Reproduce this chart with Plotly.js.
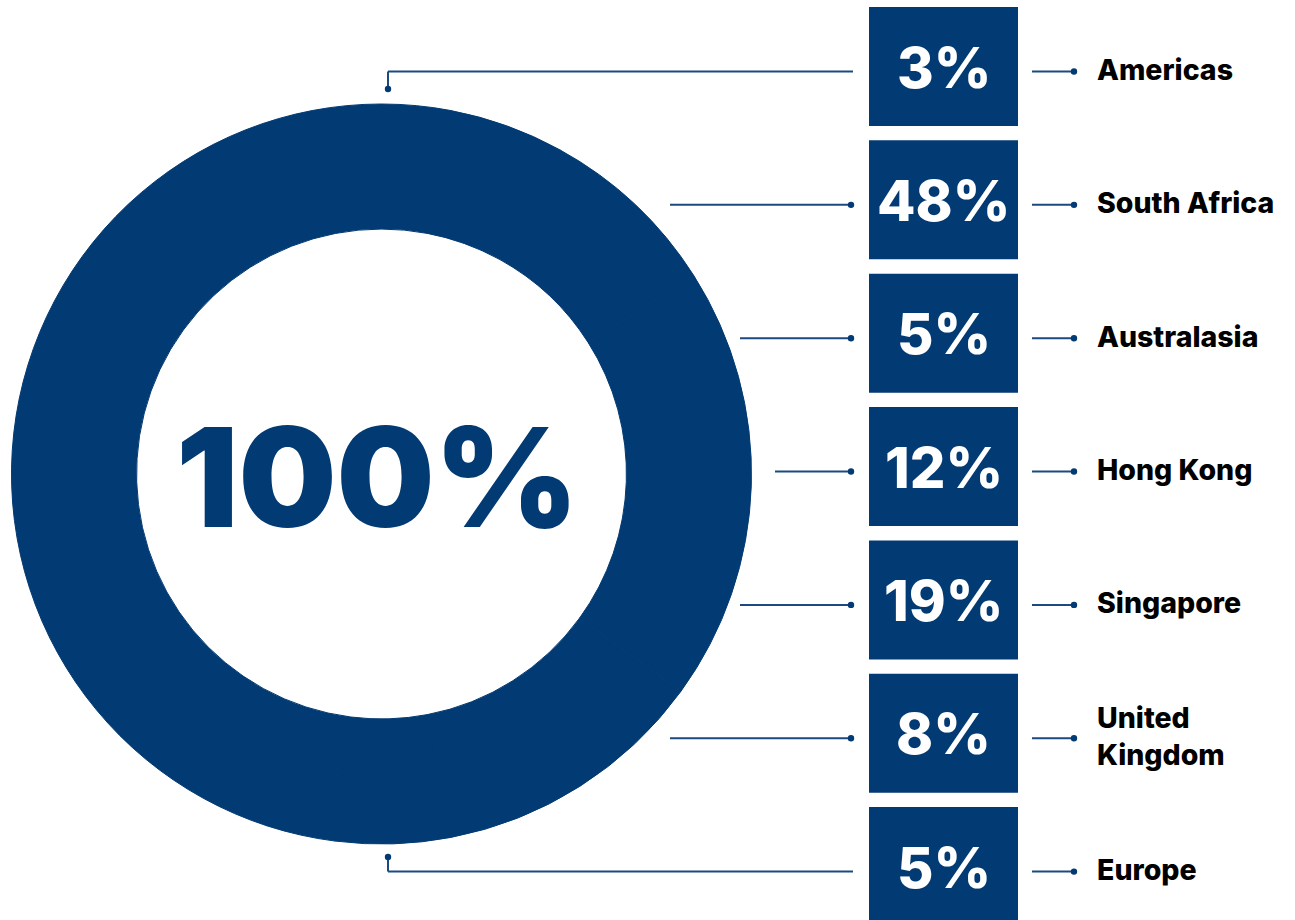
<!DOCTYPE html>
<html>
<head>
<meta charset="utf-8">
<script src="https://cdn.plot.ly/plotly-3.0.1.min.js"></script>
<style>html,body{margin:0;padding:0;background:#fff;}#chart{width:1295px;height:920px;}</style>
</head>
<body>
<div id="chart"></div>
<script>
// ---- data ----
const regions = ["Americas", "South Africa", "Australasia", "Hong Kong", "Singapore", "United<br>Kingdom", "Europe"];
const shares = [3, 48, 5, 12, 19, 8, 5];
const totalLabel = "100%";

// ---- layout / style ----
const NAVY = "#023a73";
const LINE = "#1d4a7e";
const W = 1295, H = 920;
const cx = 381.5, cy = 474, R = 370, holeFrac = 0.662;
const boxX0 = 869, boxX1 = 1018, boxTop0 = 7, boxStep = 133.35, boxH = 119;
const leftStarts = [null, 670, 740, 775, 740, 670, null];
const FONT = "Inter, 'Open Sans', sans-serif";

const shapes = [];
const annotations = [];

function dot(x, y, r) {
  shapes.push({type: "circle", xref: "x", yref: "y", x0: x - r, x1: x + r, y0: y - r, y1: y + r,
    fillcolor: NAVY, line: {width: 0}, layer: "above"});
}
function seg(x0, y0, x1, y1) {
  shapes.push({type: "line", xref: "x", yref: "y", x0: x0, y0: y0, x1: x1, y1: y1,
    line: {color: LINE, width: 2}, layer: "above"});
}

shares.forEach((v, i) => {
  const top = boxTop0 + boxStep * i;
  const mid = top + boxH / 2;
  const ly = mid + 5;
  shapes.push({type: "rect", xref: "x", yref: "y", x0: boxX0, x1: boxX1, y0: top, y1: top + boxH,
    fillcolor: NAVY, line: {width: 0}, layer: "above"});
  annotations.push({xref: "x", yref: "y", x: (boxX0 + boxX1) / 2, y: mid + 1, text: v + "%",
    showarrow: false, xanchor: "center", yanchor: "middle",
    font: {family: FONT, size: 56, color: "#ffffff", weight: 800}});
  // right connector
  seg(1032, ly, 1074, ly);
  dot(1074, ly, 3.2);
  annotations.push({xref: "x", yref: "y", x: 1095, y: ly - 2, text: regions[i],
    showarrow: false, xanchor: "left", yanchor: "middle", align: "left",
    font: {family: FONT, size: 28.5, color: "#000000", weight: 800}});
  // left connector
  if (i === 0) {
    seg(853, ly, 388, ly); seg(388, ly, 388, 89); dot(388, 89, 3.2);
  } else if (i === shares.length - 1) {
    seg(853, ly, 388, ly); seg(388, ly, 388, 857); dot(388, 857, 3.2);
  } else {
    seg(leftStarts[i], ly, 851, ly); dot(851, ly, 3.2);
  }
});

annotations.push({xref: "x", yref: "y", x: cx - 4, y: cy + 2, text: totalLabel, showarrow: false,
  xanchor: "center", yanchor: "middle",
  font: {family: FONT, size: 138, color: NAVY, weight: 900}});

const pie = {
  type: "pie",
  values: shares,
  labels: regions,
  sort: false,
  hole: holeFrac,
  marker: {colors: shares.map(() => NAVY), line: {width: 1, color: NAVY}},
  textinfo: "none",
  hoverinfo: "label+percent",
  showlegend: false,
  domain: {x: [(cx - R) / W, (cx + R) / W], y: [1 - (cy + R) / H, 1 - (cy - R) / H]}
};

const layout = {
  width: W, height: H,
  margin: {l: 0, r: 0, t: 0, b: 0},
  paper_bgcolor: "#ffffff", plot_bgcolor: "rgba(0,0,0,0)",
  xaxis: {range: [0, W], visible: false, fixedrange: true},
  yaxis: {range: [H, 0], visible: false, fixedrange: true},
  shapes: shapes,
  annotations: annotations,
  showlegend: false
};

Plotly.newPlot("chart", [pie], layout, {displayModeBar: false, staticPlot: true});
</script>
</body>
</html>
